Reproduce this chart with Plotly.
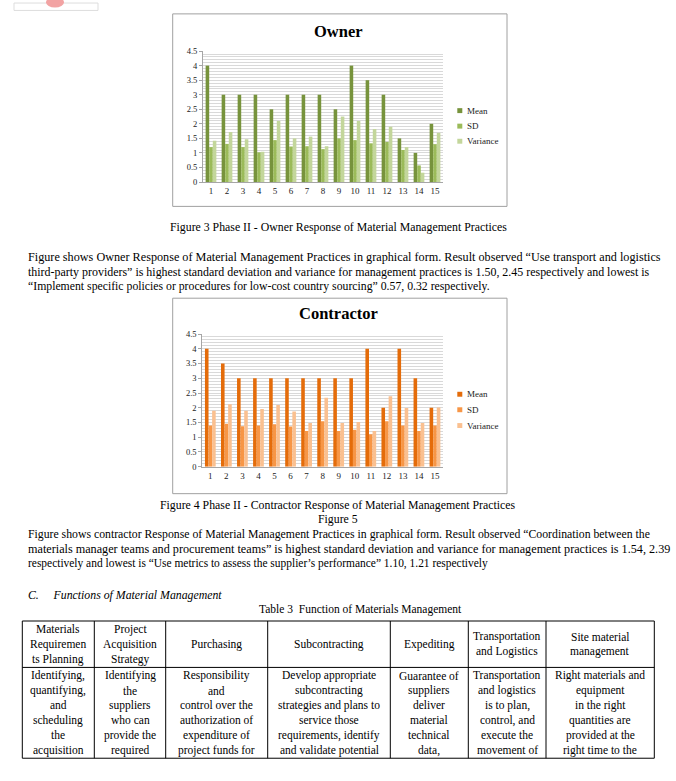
import plotly.graph_objects as go

W, H = 676, 781


def px(x):
    return x / W


def py(y):
    return 1 - y / H


# ---------------- data ----------------
categories = [str(i) for i in range(1, 16)]
series_names = ["Mean", "SD", "Variance"]

owner_mean = [4, 3, 3, 3, 2.5, 3, 3, 3, 2.5, 4, 3.5, 3, 1.5, 1, 2]
owner_sd = [1.20, 1.31, 1.20, 1.02, 1.44, 1.22, 1.23, 1.13, 1.50, 1.44, 1.33, 1.38, 1.10, 0.57, 1.30]
owner_var = [1.42, 1.72, 1.47, 1.04, 2.10, 1.50, 1.56, 1.23, 2.25, 2.10, 1.82, 1.90, 1.20, 0.32, 1.69]

contractor_mean = [4, 3.5, 3, 3, 3, 3, 3, 3, 3, 3, 4, 2, 4, 3, 2]
contractor_sd = [1.40, 1.46, 1.37, 1.40, 1.44, 1.36, 1.21, 1.54, 1.21, 1.25, 1.10, 1.54, 1.40, 1.21, 1.40]
contractor_var = [1.90, 2.12, 1.90, 1.96, 2.09, 1.87, 1.48, 2.34, 1.48, 1.52, 1.21, 2.39, 1.99, 1.48, 2.01]

owner_colors = ["#77933C", "#9BBB59", "#C3D69B"]
contractor_colors = ["#E46C0A", "#F79646", "#FAC090"]

chart_titles = ["Owner", "Contractor"]

caption_owner = "Figure 3 Phase II - Owner Response of Material Management Practices"
caption_contractor = "Figure 4 Phase II - Contractor Response of Material Management Practices"
caption_fig5 = "Figure 5"

para_owner = [
    "Figure shows Owner Response of Material Management Practices in graphical form. Result observed \u201cUse transport and logistics",
    "third-party providers\u201d is highest standard deviation and variance for management practices is 1.50, 2.45 respectively and lowest is",
    "\u201cImplement specific policies or procedures for low-cost country sourcing\u201d 0.57, 0.32 respectively.",
]
para_contractor = [
    "Figure shows contractor Response of Material Management Practices in graphical form. Result observed \u201cCoordination between the",
    "materials manager teams and procurement teams\u201d is highest standard deviation and variance for management practices is 1.54, 2.39",
    "respectively and lowest is \u201cUse metrics to assess the supplier\u2019s performance\u201d 1.10, 1.21 respectively",
]
section_heading = "C.\u2003 Functions of Material Management"
table_title = "Table 3  Function of Materials Management"

table_header = [
    ["Materials", "Requiremen", "ts Planning"],
    ["Project", "Acquisition", "Strategy"],
    ["Purchasing"],
    ["Subcontracting"],
    ["Expediting"],
    ["Transportation", "and Logistics"],
    ["Site material", "management"],
]
table_body = [
    ["Identifying,", "quantifying,", "and", "scheduling", "the", "acquisition"],
    ["Identifying", "the", "suppliers", "who can", "provide the", "required"],
    ["Responsibility", "and", "control over the", "authorization of", "expenditure of", "project funds for"],
    ["Develop appropriate", "subcontracting", "strategies and plans to", "service those", "requirements, identify", "and validate potential"],
    ["Guarantee of", "suppliers", "deliver", "material", "technical", "data,"],
    ["Transportation", "and logistics", "is to plan,", "control, and", "execute the", "movement of"],
    ["Right materials and", "equipment", "in the right", "quantities are", "provided at the", "right time to the"],
]

# ---------------- figure ----------------
SERIF = "Liberation Serif"
fig = go.Figure()

for vals, name, col in zip([owner_mean, owner_sd, owner_var], series_names, owner_colors):
    fig.add_trace(go.Bar(x=categories, y=vals, name=name, marker=dict(color=col, line=dict(width=0)),
                         xaxis="x", yaxis="y", showlegend=False))
for vals, name, col in zip([contractor_mean, contractor_sd, contractor_var], series_names, contractor_colors):
    fig.add_trace(go.Bar(x=categories, y=vals, name=name, marker=dict(color=col, line=dict(width=0)),
                         xaxis="x2", yaxis="y2", showlegend=False))

axis_gray = "#a6a6a6"
grid_gray = "#d9d9d9"


def xaxis_cfg(x0, x1, anchor):
    return dict(domain=[px(x0), px(x1)], anchor=anchor, type="category", showgrid=False,
                showline=True, linecolor=axis_gray, linewidth=1, ticks="",
                tickfont=dict(family=SERIF, size=9, color="#222"), fixedrange=True)


def yaxis_cfg(ytop, ybot, anchor):
    return dict(domain=[py(ybot), py(ytop)], anchor=anchor, range=[0, 4.5], dtick=0.5,
                showgrid=True, gridcolor=grid_gray, gridwidth=1, zeroline=False,
                minor=dict(dtick=0.1, showgrid=True, gridcolor=grid_gray, gridwidth=1),
                showline=True, linecolor=axis_gray, linewidth=1, ticks="outside", ticklen=3,
                tickcolor=axis_gray, tickfont=dict(family=SERIF, size=8.5, color="#222"),
                fixedrange=True)


shapes = []
annotations = []

# chart frames
for top, bot in [(9, 204), (297, 495)]:
    shapes.append(dict(type="rect", xref="paper", yref="paper", x0=px(172.7), x1=px(507),
                       y0=py(bot), y1=py(top), line=dict(color="#a0a0a0", width=1)))

# titles
for title, y in zip(chart_titles, [26.5, 312.5]):
    annotations.append(dict(text="<b>" + title + "</b>", x=px(338), y=py(y), xref="paper", yref="paper",
                            showarrow=False, xanchor="center", yanchor="middle",
                            font=dict(family=SERIF, size=16.5, color="black")))

# legends (manual)
for ys, cols in [([107, 122.7, 138], owner_colors), ([394.3, 410, 426], contractor_colors)]:
    for yy, name, col in zip(ys, series_names, cols):
        shapes.append(dict(type="rect", xref="paper", yref="paper", x0=px(457.3), x1=px(462.3),
                           y0=py(yy + 2.5), y1=py(yy - 2.5), fillcolor=col, line=dict(width=0)))
        annotations.append(dict(text=name, x=px(464.5), y=py(yy), xref="paper", yref="paper",
                                showarrow=False, xanchor="left", yanchor="middle",
                                font=dict(family=SERIF, size=9, color="#222")))

TXT = 11.5
# per-line sizes so that the justified lines span the text block like the original
para_owner_sizes = [12.2, 11.95, 11.75]
para_contractor_sizes = [11.76, 12.2, 11.45]


def text(t, x, y, anchor="left", size=TXT, italic=False):
    annotations.append(dict(text=t, x=px(x), y=py(y), xref="paper", yref="paper", showarrow=False,
                            xanchor=anchor, yanchor="middle",
                            font=dict(family=SERIF, size=size, color="black",
                                      style="italic" if italic else "normal")))


text(caption_owner, 338, 224.5, "center", size=11.8)
for i, (line, sz) in enumerate(zip(para_owner, para_owner_sizes)):
    text(line, 26, 255 + 15 * i, size=sz)

text(caption_contractor, 338, 506, "center", size=11.8)
text(caption_fig5, 338, 520.5, "center", size=11.8)
for i, (line, sz) in enumerate(zip(para_contractor, para_contractor_sizes)):
    text(line, 26, 536 + 15 * i, size=sz)

text(section_heading, 26, 598, italic=True, size=11.8)
text(table_title, 360, 612.5, "center")

# table grid
col_x = [22.3, 94.3, 165.7, 267.7, 390.3, 468.3, 546, 654.3]
row_y = [624, 671, 763]
for x in col_x:
    shapes.append(dict(type="line", xref="paper", yref="paper", x0=px(x), x1=px(x),
                       y0=py(row_y[-1]), y1=py(row_y[0]), line=dict(color="black", width=1)))
for y in row_y:
    shapes.append(dict(type="line", xref="paper", yref="paper", x0=px(col_x[0]), x1=px(col_x[-1]),
                       y0=py(y), y1=py(y), line=dict(color="black", width=1)))

hdr_mid = (row_y[0] + row_y[1]) / 2
for c, lines in enumerate(table_header):
    cx = (col_x[c] + col_x[c + 1]) / 2
    n = len(lines)
    for i, line in enumerate(lines):
        text(line, cx, hdr_mid + (i - (n - 1) / 2) * 15.2, "center")
for c, lines in enumerate(table_body):
    cx = (col_x[c] + col_x[c + 1]) / 2
    for i, line in enumerate(lines):
        text(line, cx, 679.3 + 15.1 * i, "center")

# small header logo fragment at the top-left
shapes.append(dict(type="rect", xref="paper", yref="paper", x0=px(14), x1=px(98), y0=py(5.5), y1=py(-2),
                   line=dict(color="#dddddd", width=1)))
shapes.append(dict(type="circle", xref="paper", yref="paper", x0=px(46), x1=px(64), y0=py(2.5), y1=py(-8),
                   fillcolor="#f2a3a3", line=dict(width=0)))

fig.update_layout(
    width=W, height=H, margin=dict(l=0, r=0, t=0, b=0),
    paper_bgcolor="white", plot_bgcolor="white",
    barmode="group", bargap=0.33, bargroupgap=0,
    showlegend=False,
    xaxis=xaxis_cfg(203, 443, "y"), yaxis=yaxis_cfg(46.7, 179.3, "x"),
    xaxis2=xaxis_cfg(202.3, 443, "y2"), yaxis2=yaxis_cfg(333.3, 467.7, "x2"),
    shapes=shapes, annotations=annotations,
)

fig.write_html("out.html", config={"displayModeBar": False},
               post_script="document.body.style.margin='0';document.body.style.overflow='hidden';")
